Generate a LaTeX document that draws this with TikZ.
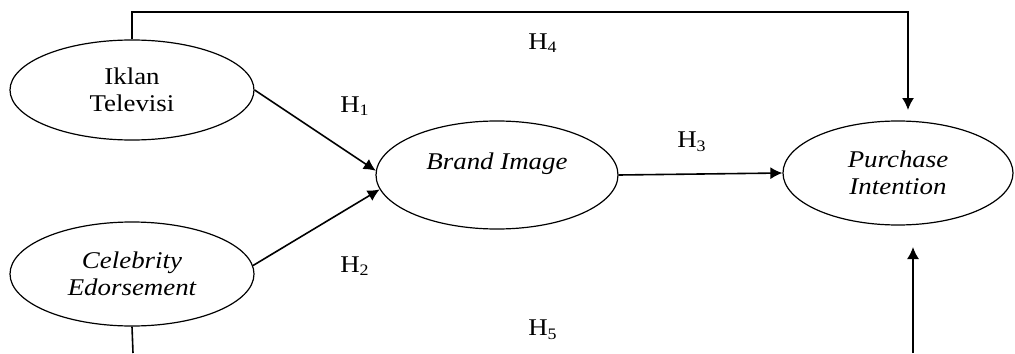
\documentclass[tikz,border=0pt]{standalone}
\usepackage{fontspec}
\setmainfont[FakeStretch=1.12]{Liberation Serif}
\usetikzlibrary{arrows.meta, positioning, shapes.geometric}

\begin{document}
\begin{tikzpicture}[x=0.5pt, y=-0.5pt,
    construct/.style={draw, ellipse, line width=0.6pt, inner sep=0pt, align=center,
        font=\fontsize{12}{13.5}\selectfont},
    link/.style={line width=0.8pt, -{Latex[length=6pt, width=6pt]}},
    hyp/.style={font=\fontsize{12}{12}\selectfont}]
    \useasboundingbox (0, 0) rectangle (1015, 353);

    % Constructs
    \node[construct, minimum width=122pt, minimum height=50pt] (iklan) at (132, 90) {Iklan\\Televisi};
    \node[construct, minimum width=122pt, minimum height=52pt] (celeb) at (132, 274) {\itshape Celebrity\\\itshape Edorsement};
    \node[construct, minimum width=121pt, minimum height=54pt] (brand) at (497, 175) {\itshape Brand Image\\~};
    \node[construct, minimum width=115pt, minimum height=52pt] (purchase) at (898, 173) {\itshape Purchase\\\itshape Intention};

    % Helper points
    \coordinate (topcorner) at (908, 12);
    \coordinate (topend) at (908, 110);
    \coordinate (botleft) at (133, 353);
    \coordinate (botright) at (913, 353);
    \coordinate (botend) at (913, 247);

    % Paths
    \draw[link] (iklan.east) -- (brand.178);
    \draw[link] (celeb.4) -- (brand.187);
    \draw[link] (brand.east) -- (purchase.west);
    \draw[link] (iklan.north) |- (topcorner) -- (topend);
    \draw[line width=0.8pt] (celeb.south) -- (botleft);
    \draw[link] (botright) -- (botend);

    % Hypotheses
    \node[hyp] (h1) at (355, 106) {H\textsubscript{1}};
    \node[hyp] (h2) at (355, 266) {H\textsubscript{2}};
    \node[hyp] (h3) at (692, 142) {H\textsubscript{3}};
    \node[hyp] (h4) at (543, 43) {H\textsubscript{4}};
    \node[hyp] (h5) at (543, 330) {H\textsubscript{5}};
\end{tikzpicture}
\end{document}
